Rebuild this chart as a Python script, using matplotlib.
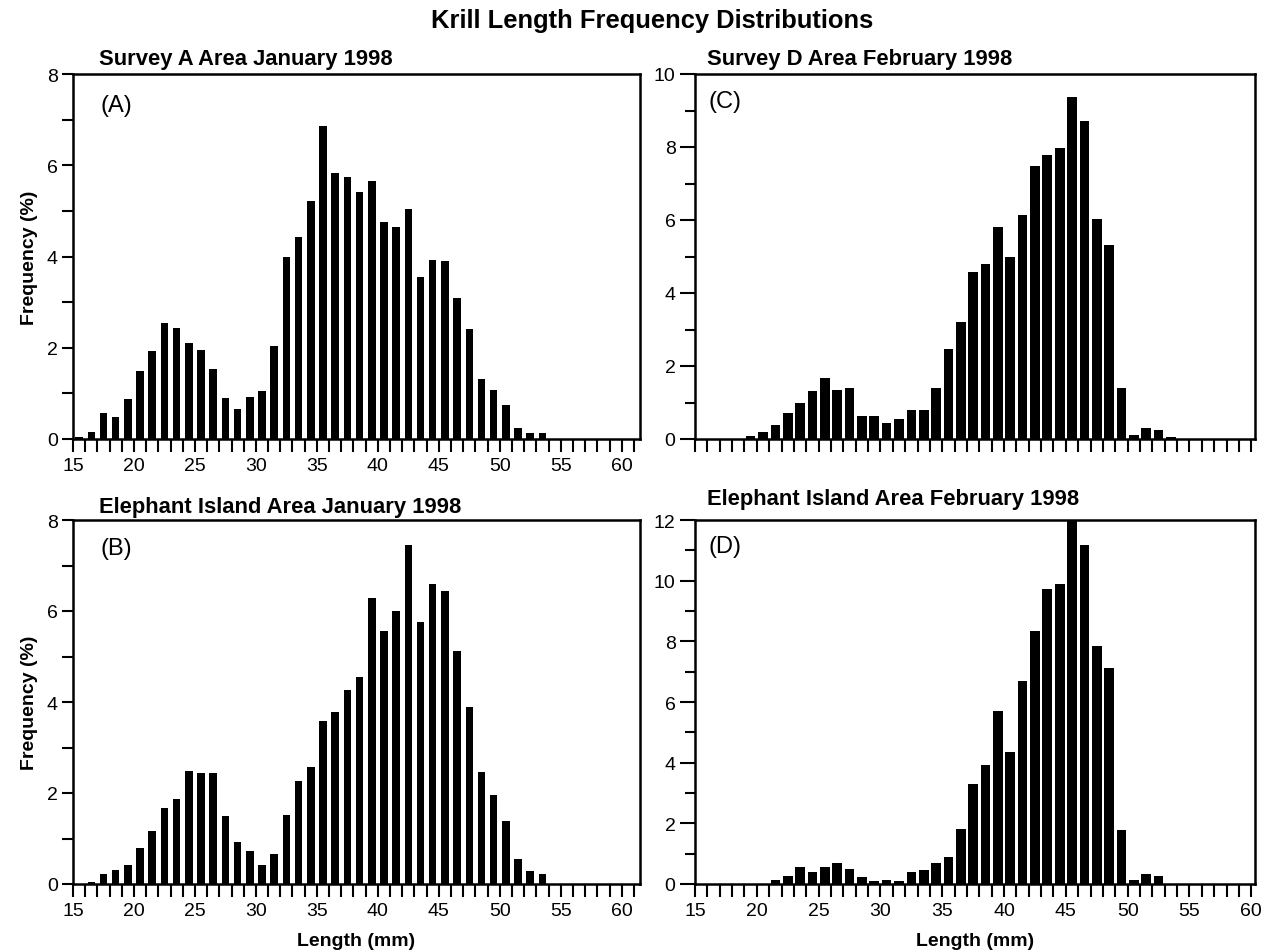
import matplotlib
matplotlib.use("Agg")
import matplotlib.pyplot as plt
from matplotlib.ticker import MultipleLocator

plt.rcParams['font.family'] = ['Liberation Sans', 'DejaVu Sans']

# 1-mm length classes (lower bin edge, mm) and frequency (%) per survey
lengths_a = list(range(15, 54))
freq_a = [0.05, 0.15, 0.56, 0.48, 0.88, 1.50, 1.92, 2.54, 2.43, 2.11,
          1.96, 1.54, 0.89, 0.66, 0.93, 1.06, 2.04, 3.98, 4.43, 5.22,
          6.87, 5.84, 5.75, 5.42, 5.66, 4.76, 4.64, 5.05, 3.55, 3.93,
          3.90, 3.08, 2.42, 1.32, 1.08, 0.75, 0.24, 0.13, 0.13]

lengths_b = list(range(16, 54))
freq_b = [0.05, 0.23, 0.31, 0.42, 0.80, 1.16, 1.67, 1.87, 2.49, 2.45,
          2.45, 1.49, 0.92, 0.73, 0.42, 0.67, 1.52, 2.27, 2.58, 3.59,
          3.77, 4.26, 4.54, 6.28, 5.56, 5.99, 7.45, 5.75, 6.59, 6.44,
          5.11, 3.88, 2.47, 1.96, 1.39, 0.55, 0.29, 0.22]

lengths_c = list(range(19, 54))
freq_c = [0.07, 0.20, 0.39, 0.70, 1.00, 1.31, 1.66, 1.35, 1.40, 0.64,
          0.64, 0.44, 0.55, 0.80, 0.80, 1.41, 2.47, 3.21, 4.57, 4.79,
          5.80, 5.00, 6.15, 7.47, 7.79, 7.96, 9.38, 8.72, 6.03, 5.32,
          1.39, 0.12, 0.29, 0.25, 0.06]

lengths_d = list(range(21, 53))
freq_d = [0.14, 0.27, 0.56, 0.39, 0.56, 0.69, 0.51, 0.22, 0.09, 0.14,
          0.09, 0.40, 0.47, 0.69, 0.88, 1.82, 3.31, 3.91, 5.70, 4.35,
          6.69, 8.34, 9.71, 9.90, 12.10, 11.18, 7.84, 7.11, 1.79, 0.14,
          0.33, 0.25]

W, H = 1272, 953


def px_axes(fig, left, top, right, bottom):
    return fig.add_axes([left / W, (H - bottom) / H, (right - left) / W, (bottom - top) / H])


def draw_panel(fig, ax, lengths, freqs, ymax, xmax, width, tag, tag_xy, title, title_xy,
               ytick_len=(8, 8), xlabels=True, xlabel=False, ylabel=False):
    xs = [l + 0.5 for l in lengths]
    ax.bar(xs, freqs, width=width, color='black', align='center')
    ax.set_xlim(15, xmax)
    ax.set_ylim(0, ymax)

    ax.xaxis.set_major_locator(MultipleLocator(5))
    ax.xaxis.set_minor_locator(MultipleLocator(1))
    ax.yaxis.set_major_locator(MultipleLocator(2))
    ax.yaxis.set_minor_locator(MultipleLocator(1))
    ax.tick_params(axis='x', which='both', direction='out', length=9, width=1.5,
                   labelsize=14, pad=4, labelbottom=xlabels)
    ax.tick_params(axis='y', which='major', direction='out', length=ytick_len[0],
                   width=1.5, labelsize=14, pad=3)
    ax.tick_params(axis='y', which='minor', direction='out', length=ytick_len[1], width=1.5)
    for s in ax.spines.values():
        s.set_linewidth(1.8)

    # panel tag and caption, placed in figure pixels
    fig.text(tag_xy[0] / W, 1 - tag_xy[1] / H, tag, fontsize=17, ha='left', va='center')
    fig.text(title_xy[0] / W, 1 - title_xy[1] / H, title, fontsize=15.8,
             fontweight='bold', ha='left', va='center')
    if xlabel:
        ax.set_xlabel('Length (mm)', fontsize=14, fontweight='bold', labelpad=9)
    if ylabel:
        ax.set_ylabel('Frequency (%)', fontsize=14, fontweight='bold', labelpad=6)


fig = plt.figure(figsize=(W / 100, H / 100), dpi=100)

ax_a = px_axes(fig, 73, 75, 640, 440)
ax_c = px_axes(fig, 695, 75, 1255, 440)
ax_b = px_axes(fig, 73, 521, 640, 885)
ax_d = px_axes(fig, 695, 521, 1255, 885)

draw_panel(fig, ax_a, lengths_a, freq_a, 8, 61.5, 0.62, '(A)', (100, 106),
           'Survey A Area January 1998', (99, 59), ylabel=True)
draw_panel(fig, ax_c, lengths_c, freq_c, 10, 60.3, 0.78, '(C)', (708, 102),
           'Survey D Area February 1998', (707, 59), ytick_len=(11, 7), xlabels=False)
draw_panel(fig, ax_b, lengths_b, freq_b, 8, 61.5, 0.62, '(B)', (100, 549),
           'Elephant Island Area January 1998', (99, 507), xlabel=True, ylabel=True)
draw_panel(fig, ax_d, lengths_d, freq_d, 12, 60.3, 0.78, '(D)', (708, 547),
           'Elephant Island Area February 1998', (707, 500), ytick_len=(11, 7),
           xlabel=True)

fig.text(652 / W, 1 - 21 / H, 'Krill Length Frequency Distributions', fontsize=18.4,
         fontweight='bold', ha='center', va='center')

fig.savefig('out.png', dpi=100)
